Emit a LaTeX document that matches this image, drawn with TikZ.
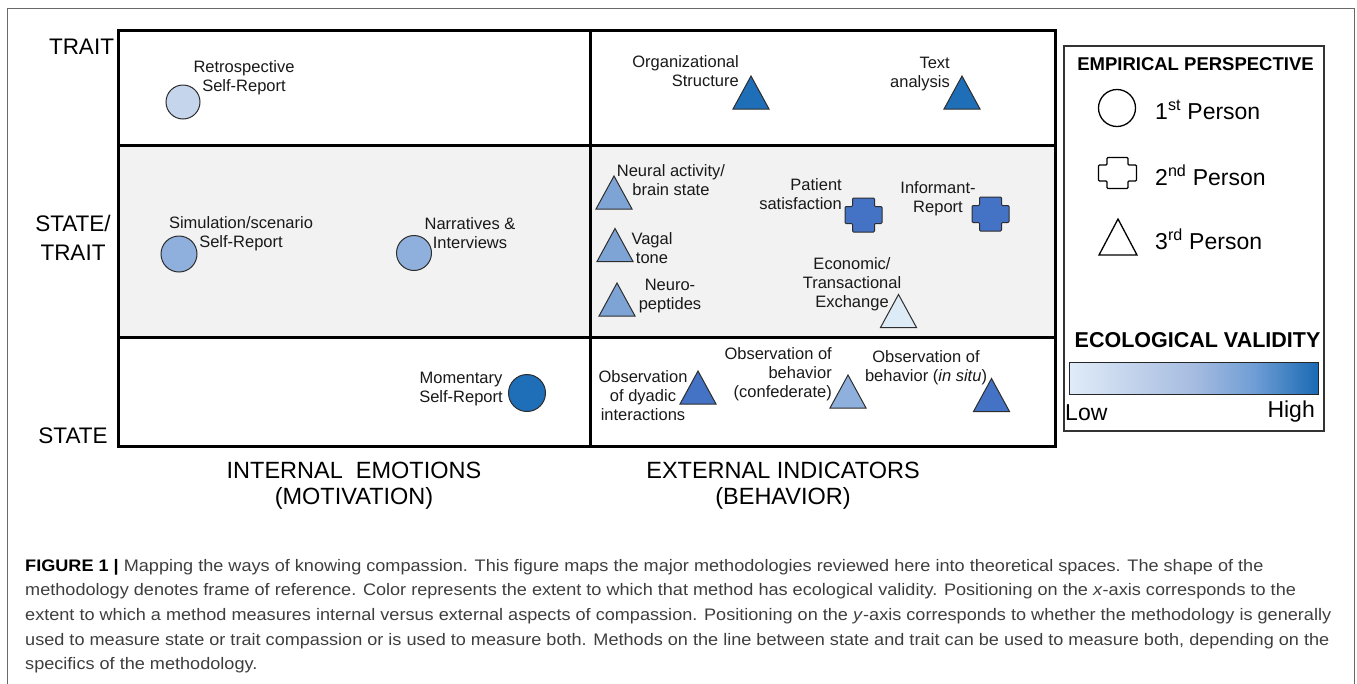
\documentclass[tikz,border=0pt]{standalone}
\usepackage{fontspec}
\setmainfont{Liberation Sans}
\usepackage{graphicx}
\definecolor{cA}{RGB}{221,235,247}
\definecolor{cB}{RGB}{197,213,236}
\definecolor{cC}{RGB}{143,176,220}
\definecolor{cCn}{RGB}{126,164,214}
\definecolor{cD}{RGB}{68,114,196}
\definecolor{cE}{RGB}{30,110,184}
\definecolor{rowgray}{RGB}{242,242,242}
\definecolor{shpline}{RGB}{45,45,45}
\definecolor{captxt}{RGB}{62,62,62}
\definecolor{frm}{RGB}{105,105,105}
\definecolor{g0}{RGB}{224,236,248}
\definecolor{g1}{RGB}{196,212,236}
\definecolor{g2}{RGB}{166,188,224}
\definecolor{g3}{RGB}{112,158,213}
\definecolor{g4}{RGB}{26,106,180}
\pgfdeclarehorizontalshading{evshade}{100bp}{color(0bp)=(g0); color(25bp)=(g0); color(37bp)=(g1); color(50bp)=(g2); color(62bp)=(g3); color(75bp)=(g4); color(100bp)=(g4)}
\newlength\capw
\newcommand\capfont{\fontsize{16.7}{20}\selectfont}
\newcommand\mytri[5]{% name, pos, fill, half width, height
  \coordinate (#1) at (#2);
  \draw[shp,fill=#3] (#1) ++(0,{-#5/2}) -- ++(#4,#5) -- ++({-2*#4},0) -- cycle;}
\newcommand\mycross[7]{% name, pos, fill, hw, hh, aw, ah
  \coordinate (#1) at (#2);
  \draw[shp,fill=#3,rounded corners=1pt] (#1) ++(-#6,-#5) -- ++({2*#6},0) -- ++(0,{#5-#7}) -- ++({#4-#6},0) -- ++(0,{2*#7}) -- ++({#6-#4},0) -- ++(0,{#5-#7}) -- ++({-2*#6},0) -- ++(0,{#7-#5}) -- ++({#6-#4},0) -- ++(0,{-2*#7}) -- ++({#4-#6},0) -- cycle;}
\tikzset{
  shp/.style={draw=shpline,line width=1pt,line join=miter},
  legshp/.style={draw=black,line width=1.3pt,line join=miter},
  grid/.style={line width=3pt,black},
  dot/.style={circle,draw=shpline,line width=1pt,inner sep=0pt},
  lbl/.style={font=\fontsize{16.5}{19}\selectfont,align=center,inner sep=0pt,text=black!90},
  axis/.style={font=\fontsize{22.5}{29}\selectfont,align=center,inner sep=0pt},
  bottom/.style={font=\fontsize{23.5}{28}\selectfont,inner sep=0pt},
  legtxt/.style={font=\fontsize{23}{26}\selectfont,inner sep=0pt,anchor=west},
  caplne/.style={anchor=base west,inner sep=0pt,text=captxt}
}
\begin{document}
\settowidth{\capw}{\capfont extent to which a method measures internal versus external aspects of compassion. Positioning on the \textit{y}-axis corresponds to whether the methodology is generally}%
\pgfmathsetmacro\capsx{1306/\capw}%
\begin{tikzpicture}[x=1pt,y=-1pt]
\useasboundingbox (0,0) rectangle (1357,683);
% outer frame
\draw[frm,line width=1pt] (7,690) -- (7,8) -- (1354,8) -- (1354,690);
% grid
\fill[rowgray] (118,145) rectangle (1055,337);
\draw[grid] (118,30) rectangle (1055,446);
\draw[grid] (118,145) -- (1055,145);
\draw[grid] (118,337) -- (1055,337);
\draw[grid] (590,30) -- (590,446);
% y-axis labels
\node[axis] (ytrait) at (81.5,47) {TRAIT};
\node[axis] (ymid) at (73,238) {STATE/\\TRAIT};
\node[axis] (ystate) at (73,436) {STATE};
% x-axis labels
\node[bottom] (xint) at (354,470) {INTERNAL\ \ EMOTIONS};
\node[bottom] (xintb) at (354,498) {(MOTIVATION)};
\node[bottom] (xext) at (783,470) {EXTERNAL INDICATORS};
\node[bottom] (xextb) at (783,498) {(BEHAVIOR)};
% internal column
\node[dot,fill=cB,minimum size=34pt] (retro) at (183,102) {};
\node[lbl] (retrol) at (244,78) {Retrospective\\Self-Report};
\node[dot,fill=cC,minimum size=36pt] (sim) at (179,254) {};
\node[lbl] (siml) at (241,234) {Simulation/scenario\\Self-Report};
\node[dot,fill=cC,minimum size=35pt] (narr) at (414,253) {};
\node[lbl] (narrl) at (470,233) {Narratives \&\\Interviews};
\node[dot,fill=cE,minimum size=37pt] (mom) at (527,393) {};
\node[lbl] (moml) at (461,389) {Momentary\\Self-Report};
% external column: trait
\mytri{org}{751,92.5}{cE}{18}{33}
\node[lbl,align=right,anchor=east] (orgl) at (739,71) {Organizational\\Structure};
\mytri{txt}{962,92.5}{cE}{18}{33}
\node[lbl,align=right,anchor=east] (txtl) at (950,74.5) {Text\\analysis};
% external: state/trait
\mytri{neu}{614,192.5}{cCn}{18}{33}
\node[lbl] (neul) at (671,180) {Neural activity/\\brain state};
\mytri{vag}{615,245}{cCn}{18}{33}
\node[lbl] (vagl) at (652,248) {Vagal\\tone};
\mytri{pep}{617,299.5}{cCn}{18}{33}
\node[lbl] (pepl) at (670,296.5) {Neuro-\\peptides};
\mycross{pat}{863.5,215}{cD}{18.5}{17}{11}{8.5}
\node[lbl,align=right,anchor=east] (patl) at (842,194) {Patient\\satisfaction};
\mycross{inf}{990.5,214}{cD}{18.5}{17}{11}{8.5}
\node[lbl] (infl) at (938,198.5) {Informant-\\Report};
\mytri{eco}{898.5,311}{cA}{18}{33}
\node[lbl] (ecol) at (852,284.5) {Economic/\\Transactional\\Exchange};
% external: state
\mytri{dya}{698,387.5}{cD}{18}{33}
\node[lbl] (dyal) at (643,395.5) {Observation\\of dyadic\\interactions};
\mytri{con}{848,391.5}{cC}{18}{33}
\node[lbl,align=right,anchor=east] (conl) at (832,374) {Observation of\\behavior\\(confederate)};
\mytri{sit}{991.5,395}{cD}{18}{33}
\node[lbl] (sitl) at (926,367.5) {Observation of\\behavior (\textit{in situ})};
% legend
\draw[draw=black!80,line width=1.3pt] (1064,46) rectangle (1324,431);
\node[font=\bfseries\fontsize{18.5}{20}\selectfont,inner sep=0pt] (emp) at (1195.5,64) {EMPIRICAL PERSPECTIVE};
\node[circle,legshp,minimum size=37pt,inner sep=0pt] (leg1) at (1117,108) {};
\node[legtxt] (leg1l) at (1155,110) {1\textsuperscript{st} Person};
\coordinate (leg2) at (1117.5,173);
\draw[legshp,rounded corners=1pt] (leg2) ++(-10.5,-15.5) -- ++(21,0) -- ++(0,7.5) -- ++(8.5,0) -- ++(0,16) -- ++(-8.5,0) -- ++(0,7.5) -- ++(-21,0) -- ++(0,-7.5) -- ++(-8.5,0) -- ++(0,-16) -- ++(8.5,0) -- cycle;
\node[legtxt] (leg2l) at (1155,175) {2\textsuperscript{nd} Person};
\coordinate (leg3) at (1118,237);
\draw[legshp] (leg3) ++(0,-18) -- ++(19,36) -- ++(-38,0) -- cycle;
\node[legtxt] (leg3l) at (1155,239) {3\textsuperscript{rd} Person};
\node[font=\bfseries\fontsize{21.5}{24}\selectfont,inner sep=0pt] (eco2) at (1197.5,340) {ECOLOGICAL VALIDITY};
\shade[shading=evshade,draw=black!85,line width=1pt] (1069,362) rectangle (1318,394);
\node[font=\fontsize{23}{26}\selectfont,inner sep=0pt,anchor=west] (low) at (1065,413) {Low};
\node[font=\fontsize{23}{26}\selectfont,inner sep=0pt,anchor=east] (high) at (1315,412) {High};
% caption
\node[caplne] (cap1) at (25,571) {\scalebox{\capsx}[1]{\capfont\textcolor{black}{\textbf{FIGURE 1 |}} Mapping the ways of knowing compassion. This figure maps the major methodologies reviewed here into theoretical spaces. The shape of the}};
\node[caplne] (cap2) at (25,595.7) {\scalebox{\capsx}[1]{\capfont methodology denotes frame of reference. Color represents the extent to which that method has ecological validity. Positioning on the \textit{x}-axis corresponds to the}};
\node[caplne] (cap3) at (25,620.4) {\scalebox{\capsx}[1]{\capfont extent to which a method measures internal versus external aspects of compassion. Positioning on the \textit{y}-axis corresponds to whether the methodology is generally}};
\node[caplne] (cap4) at (25,645.1) {\scalebox{\capsx}[1]{\capfont used to measure state or trait compassion or is used to measure both. Methods on the line between state and trait can be used to measure both, depending on the}};
\node[caplne] (cap5) at (25,669.8) {\scalebox{\capsx}[1]{\capfont specifics of the methodology.}};
\end{tikzpicture}
\end{document}
